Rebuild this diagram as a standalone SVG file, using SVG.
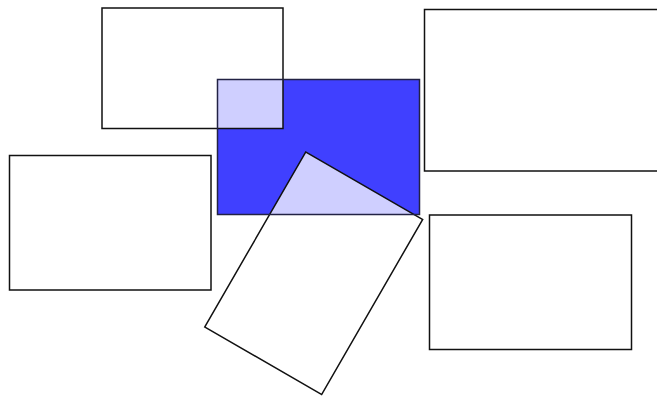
<svg xmlns="http://www.w3.org/2000/svg" width="657" height="396" viewBox="0 0 657 396">
<style>
.box{fill:#fff;fill-opacity:0.75;stroke:#111;stroke-width:1.5}
.sel{fill:#4040ff}
.selline{fill:none;stroke:#222244;stroke-width:1.5}
</style>
<rect width="657" height="396" fill="#fff"/>
<g id="selected-fill"><rect class="sel" x="217.5" y="79.5" width="202" height="135"/></g>
<g id="node-topleft"><rect class="box" x="102" y="8" width="181" height="120.5"/></g>
<g id="node-left"><rect class="box" x="9.5" y="155.5" width="201.5" height="134.5"/></g>
<g id="node-topright"><rect class="box" x="424.5" y="9.5" width="240" height="161.5"/></g>
<g id="node-bottomright"><rect class="box" x="429.5" y="215" width="202" height="134.5"/></g>
<g id="node-rotated"><rect class="box" x="-67.5" y="-101" width="135" height="202" transform="translate(313.7 273.2) rotate(30)"/></g>
<g id="selected"><rect class="selline" x="217.5" y="79.5" width="202" height="135"/></g>
<g id="connectors"></g>
</svg>
